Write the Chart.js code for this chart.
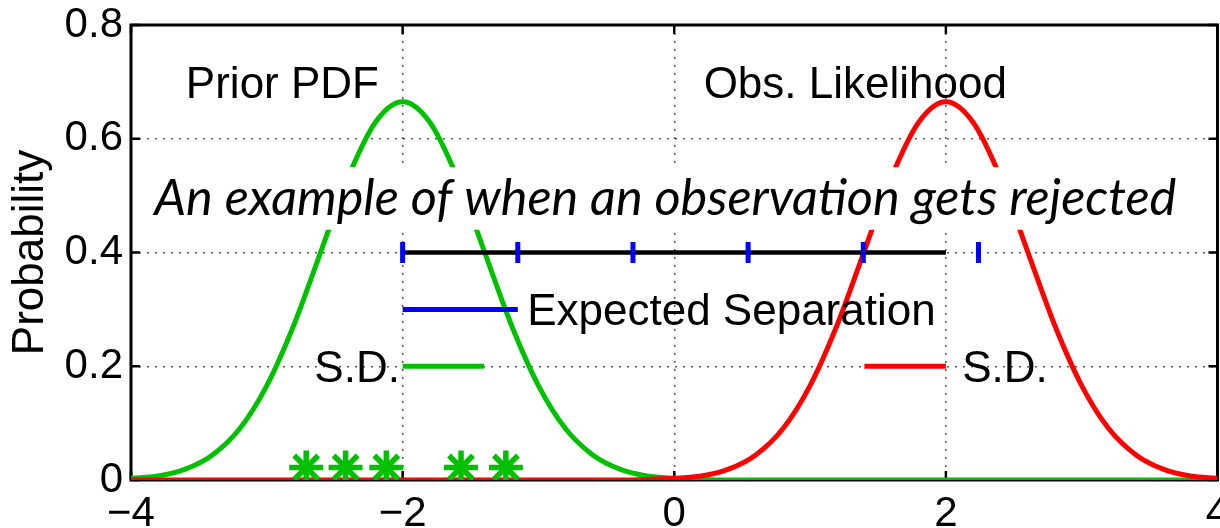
<!DOCTYPE html>
<html>
<head>
<meta charset="utf-8">
<script src="https://cdn.jsdelivr.net/npm/chart.js@4/dist/chart.umd.min.js"></script>
<style>
  html,body{margin:0;background:#fff;overflow:hidden}
  /* a bit wider than the window so the last x label gets cut like the original */
  #wrap{width:1240px;height:528px}
</style>
</head>
<body>
<div id="wrap"><canvas id="c"></canvas></div>
<script>
// ── DATA ────────────────────────────────────────────────────────────────────
const CURVE_X = [-4,-3.8,-3.6,-3.4,-3.2,-3,-2.8,-2.6,-2.4,-2.2,-2,-1.8,-1.6,-1.4,-1.2,-1,-0.8,-0.6,-0.4,-0.2,
                 0,0.2,0.4,0.6,0.8,1,1.2,1.4,1.6,1.8,2,2.2,2.4,2.6,2.8,3,3.2,3.4,3.6,3.8,4];
const PRIOR_PDF = [0.003,0.007,0.019,0.044,0.090,0.166,0.273,0.403,0.533,0.629,0.665,0.629,0.533,0.403,0.273,0.166,0.090,0.044,0.019,0.007,
                   0.003,0.001,0,0,0,0,0,0,0,0,0,0,0,0,0,0,0,0,0,0,0];
const OBS_LIKELIHOOD = [0,0,0,0,0,0,0,0,0,0,0,0,0,0,0,0,0,0,0,0.001,
                        0.003,0.007,0.019,0.044,0.090,0.166,0.273,0.403,0.533,0.629,0.665,0.629,0.533,0.403,0.273,0.166,0.090,0.044,0.019,0.007,0.003];

const SEP_LINE_X  = [-2, 2];          // black separation bar
const SEP_LINE_Y  = [0.4, 0.4];
const SEP_TICKS_X = [-2,-1.152,-0.304,0.544,1.392,2.24];   // expected-separation steps
const SEP_TICKS_Y = [0.4,0.4,0.4,0.4,0.4,0.4];

const KEY_SEP_X   = [-2,-1.152];      // "Expected Separation" key line
const KEY_SEP_Y   = [0.3,0.3];
const KEY_SD_PRIOR_X = [-2,-1.4];     // prior S.D.
const KEY_SD_PRIOR_Y = [0.2,0.2];
const KEY_SD_OBS_X   = [1.4,2];       // obs S.D.
const KEY_SD_OBS_Y   = [0.2,0.2];

const ENSEMBLE_X = [-2.71,-2.42,-2.12,-1.57,-1.24];
const ENSEMBLE_Y = [0.022,0.022,0.022,0.022,0.022];

const X_MIN=-4, X_MAX=4, X_STEP=2;
const Y_MIN=0, Y_MAX=0.8, Y_STEP=0.2;

const CAPTION = 'An example of when an observation gets rejected';

const GREEN='#00c000', RED='#ff0000', BLUE='#0000ff', BLACK='#000';
const FONT='"Liberation Sans", Arial, Helvetica, sans-serif';

const pts=(xs,ys)=>xs.map((x,i)=>({x,y:ys[i]}));

// ── PLUGINS ─────────────────────────────────────────────────────────────────
// box + inward ticks, matlab style
const frame={
  id:'frame',
  beforeDatasetsDraw(chart){
    const {ctx,chartArea:a,scales:{x,y}}=chart;
    ctx.save();
    ctx.strokeStyle=BLACK;
    ctx.lineWidth=3;
    ctx.strokeRect(a.left,a.top,a.right-a.left,a.bottom-a.top);
    ctx.lineWidth=2.5;
    ctx.beginPath();
    x.ticks.forEach(t=>{
      const p=x.getPixelForValue(t.value);
      ctx.moveTo(p,a.bottom);ctx.lineTo(p,a.bottom-9);
      ctx.moveTo(p,a.top);ctx.lineTo(p,a.top+9);
    });
    y.ticks.forEach(t=>{
      const p=y.getPixelForValue(t.value);
      ctx.moveTo(a.left,p);ctx.lineTo(a.left+9,p);
      ctx.moveTo(a.right,p);ctx.lineTo(a.right-9,p);
    });
    ctx.stroke();
    ctx.restore();
  }
};

// text labels + boxed caption
const notes={
  id:'notes',
  afterDatasetsDraw(chart){
    const {ctx,scales:{x,y}}=chart;
    const put=(t,vx,vy,align)=>{ctx.textAlign=align;ctx.fillText(t,x.getPixelForValue(vx),y.getPixelForValue(vy));};
    ctx.save();
    ctx.fillStyle=BLACK;
    ctx.textBaseline='alphabetic';
    ctx.font='44px '+FONT;
    put('Prior PDF',-2.885,0.672,'center');
    put('Obs. Likelihood',1.333,0.672,'center');
    put('Expected Separation',-1.083,0.272,'left');
    put('S.D.',-2.02,0.172,'right');
    put('S.D.',2.12,0.172,'left');

    const bx0=x.getPixelForValue(-3.86), bx1=x.getPixelForValue(3.76);
    const by0=y.getPixelForValue(0.55),  by1=y.getPixelForValue(0.44);
    ctx.fillStyle='#fff';
    ctx.fillRect(bx0,by0,bx1-bx0,by1-by0);
    ctx.fillStyle=BLACK;
    ctx.font='italic 51px Lato, "Open Sans", sans-serif';
    ctx.textAlign='center';
    ctx.fillText(CAPTION,x.getPixelForValue(-0.066),y.getPixelForValue(0.466),1022);
    ctx.restore();
  }
};

// ── CHART ───────────────────────────────────────────────────────────────────
const line=(data,color,width,order)=>({data,borderColor:color,backgroundColor:color,borderWidth:width,
  showLine:true,pointRadius:0,fill:false,order});

new Chart(document.getElementById('c'),{
  type:'scatter',
  data:{datasets:[
    {...line(pts(CURVE_X,PRIOR_PDF),GREEN,5,9),cubicInterpolationMode:'monotone'},
    {...line(pts(CURVE_X,OBS_LIKELIHOOD),RED,5,8),cubicInterpolationMode:'monotone'},
    line(pts(SEP_LINE_X,SEP_LINE_Y),BLACK,4.5,7),
    {data:pts(SEP_TICKS_X,SEP_TICKS_Y),pointStyle:'line',rotation:90,pointRadius:10.5,borderWidth:5,
      borderColor:BLUE,backgroundColor:BLUE,showLine:false,order:6},
    line(pts(KEY_SEP_X,KEY_SEP_Y),BLUE,5,5),
    line(pts(KEY_SD_PRIOR_X,KEY_SD_PRIOR_Y),GREEN,5,4),
    line(pts(KEY_SD_OBS_X,KEY_SD_OBS_Y),RED,5,3),
    {data:pts(ENSEMBLE_X,ENSEMBLE_Y),pointStyle:'star',pointRadius:17,borderWidth:5.5,
      borderColor:GREEN,backgroundColor:GREEN,showLine:false,order:2}
  ]},
  options:{
    responsive:true,maintainAspectRatio:false,animation:false,
    layout:{padding:{top:25,right:0,left:0,bottom:0}},
    plugins:{legend:{display:false},tooltip:{enabled:false}},
    scales:{
      x:{type:'linear',min:X_MIN,max:X_MAX,
        afterFit:s=>{s.height=48;s.paddingLeft=0;s.paddingRight=0;},
        grid:{color:'rgba(0,0,0,.65)',lineWidth:1.5,drawTicks:false},
        border:{display:false,dash:[2,6]},
        ticks:{stepSize:X_STEP,color:BLACK,padding:9,maxRotation:0,font:{family:FONT,size:42},
          callback:v=>v<0?'\u2212'+Math.abs(v):String(v)}},
      y:{type:'linear',min:Y_MIN,max:Y_MAX,
        afterFit:s=>{s.width=131;s.paddingTop=0;s.paddingBottom=0;},
        grid:{color:'rgba(0,0,0,.65)',lineWidth:1.5,drawTicks:false},
        border:{display:false,dash:[2,6]},
        title:{display:true,text:'Probability',color:BLACK,font:{family:FONT,size:44},padding:{top:4,bottom:0}},
        ticks:{stepSize:Y_STEP,color:BLACK,padding:8,font:{family:FONT,size:42},
          callback:v=>String(+v.toFixed(1))}}
    }
  },
  plugins:[frame,notes]
});
</script>
</body>
</html>
